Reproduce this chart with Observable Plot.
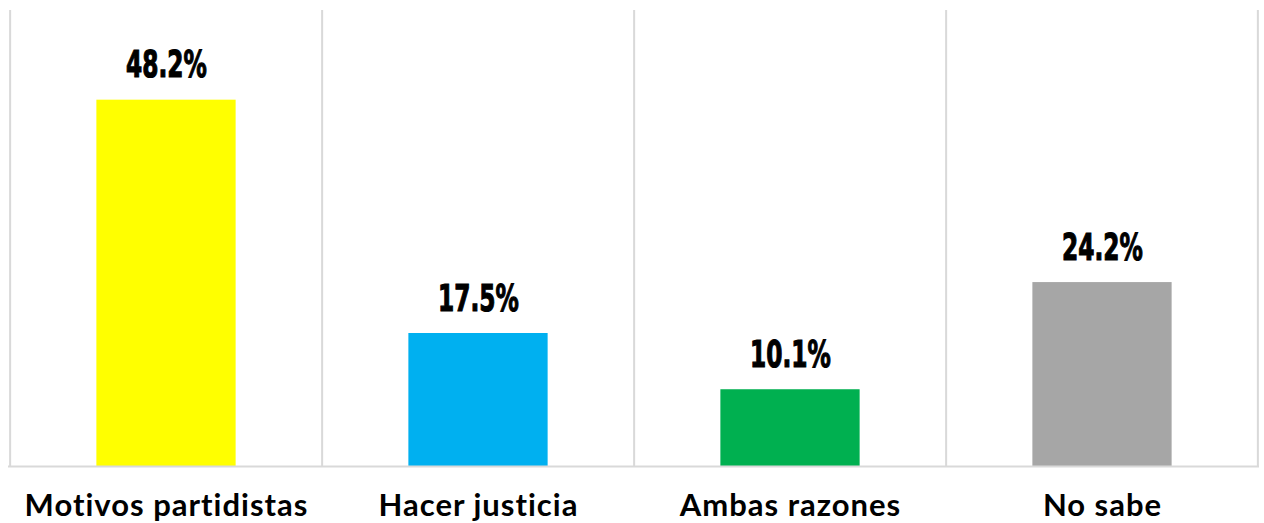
<!DOCTYPE html>
<html>
<head>
<meta charset="utf-8">
<script src="https://cdn.jsdelivr.net/npm/d3@7"></script>
<script src="https://cdn.jsdelivr.net/npm/@observablehq/plot@0.6"></script>
<style>
  html, body { margin: 0; padding: 0; background: #fff; }
</style>
</head>
<body>
<div id="chart"></div>
<script>
const categories = ["Motivos partidistas", "Hacer justicia", "Ambas razones", "No sabe"];
const values = [48.2, 17.5, 10.1, 24.2];
const colors = ["#FFFF00", "#00B0F0", "#00B050", "#A6A6A6"];
const labels = ["48.2%", "17.5%", "10.1%", "24.2%"];

const data = categories.map((c, i) => ({cat: c, value: values[i], color: colors[i], label: labels[i]}));

const width = 1264, height = 523;
const marginLeft = 8, marginRight = 5, marginTop = 10, marginBottom = 57;
const bw = (width - marginLeft - marginRight) / categories.length;
const barW = 140;
const inset = (bw - barW) / 2;

const chart = Plot.plot({
  width, height, marginLeft, marginRight, marginTop, marginBottom,
  x: {domain: categories, padding: 0, label: null},
  y: {domain: [0, 60], axis: null},
  marks: [
    Plot.ruleX(categories, {x: d => d, dx: -bw / 2, y1: 0, y2: 60, stroke: "#d9d9d9", strokeWidth: 2}),
    Plot.ruleX(categories.slice(-1), {x: d => d, dx: bw / 2 - 1, y1: 0, y2: 60, stroke: "#d9d9d9", strokeWidth: 2}),
    Plot.barY(data, {x: "cat", y: "value", fill: "color", insetLeft: inset, insetRight: inset}),
    Plot.ruleY([0], {stroke: "#d9d9d9", strokeWidth: 2}),
    Plot.text(data, {x: "cat", y: "value", text: "label", dy: -23, lineAnchor: "bottom", fontSize: 37, fill: "#000",
      fontFamily: "'DejaVu Sans', sans-serif", fontWeight: "bold", className: "vallabel"}),
    Plot.axisX({tickSize: 0, tickPadding: 27, fontSize: 31, fontWeight: "bold", fill: "#000", fontFamily: "Lato, sans-serif", label: null})
  ]
});
chart.querySelectorAll("[aria-label='x-axis tick label'] text").forEach(t => t.style.letterSpacing = "1px");
chart.querySelectorAll("g.vallabel text").forEach(t => {
  const tr = t.getAttribute("transform") || "";
  t.setAttribute("transform", tr + " scale(0.63,1)");
  t.setAttribute("stroke", "#000");
  t.setAttribute("stroke-width", "1.2");
});
document.getElementById("chart").appendChild(chart);
</script>
</body>
</html>
